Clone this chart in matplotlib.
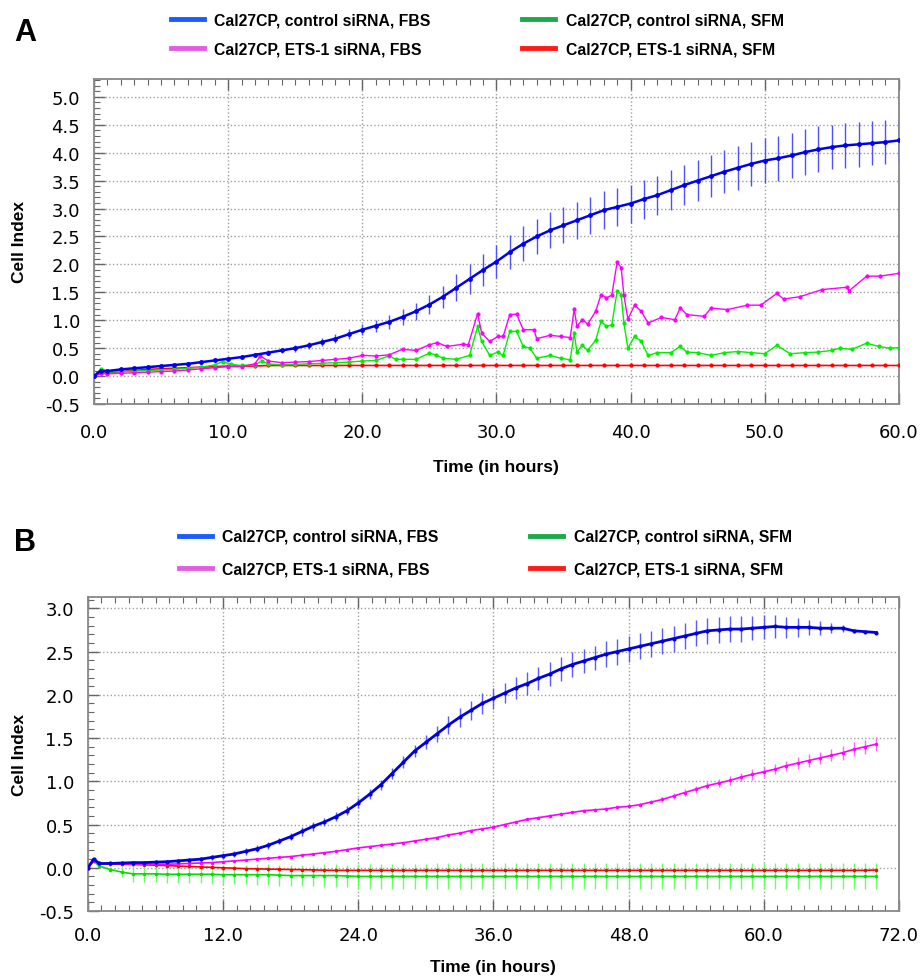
import numpy as np
import matplotlib
matplotlib.use('Agg')
import matplotlib.pyplot as plt
from matplotlib.lines import Line2D
from matplotlib.ticker import MultipleLocator, FormatStrFormatter

plt.rcParams['font.family'] = ['Liberation Sans', 'DejaVu Sans']

# ---- panel A (0-60 h) ----
t_a = [0, 0.5] + list(range(1, 61))
blue_a = [0.00, 0.10, 0.09, 0.12, 0.14, 0.16, 0.18, 0.20, 0.22, 0.25, 0.28, 0.31,
          0.34, 0.38, 0.42, 0.46, 0.50, 0.55, 0.61, 0.67, 0.75, 0.83,
          0.90, 0.97, 1.06, 1.16, 1.28, 1.42, 1.58, 1.74, 1.90, 2.05,
          2.22, 2.37, 2.50, 2.61, 2.70, 2.79, 2.88, 2.97, 3.03, 3.09,
          3.17, 3.24, 3.33, 3.42, 3.50, 3.58, 3.66, 3.73, 3.80, 3.86,
          3.90, 3.95, 4.01, 4.06, 4.10, 4.13, 4.15, 4.17, 4.19, 4.22]
blue_a_err = [0.00, 0.02, 0.02, 0.02, 0.02, 0.02, 0.02, 0.03, 0.03, 0.03, 0.03, 0.03,
              0.04, 0.04, 0.05, 0.05, 0.06, 0.06, 0.07, 0.08, 0.09, 0.10,
              0.11, 0.12, 0.14, 0.15, 0.17, 0.20, 0.24, 0.27, 0.29, 0.30,
              0.31, 0.31, 0.32, 0.32, 0.32, 0.33, 0.33, 0.34, 0.34, 0.34,
              0.35, 0.35, 0.36, 0.36, 0.37, 0.38, 0.38, 0.39, 0.40, 0.40,
              0.40, 0.40, 0.41, 0.41, 0.40, 0.40, 0.40, 0.39, 0.39, 0.39]
red_a = [0.00, 0.05, 0.06, 0.08, 0.10, 0.12, 0.13, 0.14, 0.15, 0.16, 0.17, 0.18,
         0.18, 0.18, 0.19, 0.19, 0.19, 0.19, 0.19, 0.19, 0.19, 0.19,
         0.19, 0.19, 0.19, 0.19, 0.19, 0.19, 0.19, 0.19, 0.19, 0.19,
         0.19, 0.19, 0.19, 0.19, 0.19, 0.19, 0.19, 0.19, 0.19, 0.19,
         0.19, 0.19, 0.19, 0.19, 0.19, 0.19, 0.19, 0.19, 0.19, 0.19,
         0.19, 0.19, 0.19, 0.19, 0.19, 0.19, 0.19, 0.19, 0.19, 0.19]
red_a_err = 0.01

t_green_a = [0, 0.5, 1, 2, 3, 4, 5, 6, 7, 8, 9, 9.6, 10.2, 11, 12, 12.5, 13, 14, 15, 16,
             17, 18, 19, 20, 21, 22, 22.5, 23, 24, 25, 25.5, 26, 27, 28, 28.6, 28.9,
             29.5, 30.1, 30.5, 31, 31.5, 32, 32.5, 33, 34, 34.8, 35.5, 35.8, 36, 36.4,
             36.8, 37.4, 37.8, 38.2, 38.6, 39, 39.3, 39.5, 39.8, 40.3, 40.8, 41.3, 42,
             43, 43.7, 44.2, 45, 46, 47, 48, 49, 50, 50.9, 51.9, 53, 54, 55, 55.6, 56.5,
             57.6, 58.5, 59.3, 60]
green_a = [0.00, 0.12, 0.07, 0.08, 0.09, 0.10, 0.11, 0.12, 0.14, 0.16, 0.20, 0.26, 0.21,
           0.19, 0.20, 0.27, 0.22, 0.20, 0.21, 0.22, 0.23, 0.24, 0.25, 0.27, 0.28, 0.36,
           0.30, 0.30, 0.30, 0.41, 0.38, 0.32, 0.30, 0.37, 0.89, 0.62, 0.37, 0.43, 0.37,
           0.80, 0.80, 0.53, 0.50, 0.32, 0.37, 0.32, 0.29, 0.77, 0.43, 0.55, 0.46, 0.64,
           0.98, 0.89, 0.92, 1.52, 1.46, 0.95, 0.50, 0.71, 0.62, 0.37, 0.42, 0.42, 0.53,
           0.43, 0.42, 0.37, 0.42, 0.44, 0.42, 0.40, 0.55, 0.40, 0.42, 0.43, 0.46, 0.50,
           0.48, 0.59, 0.53, 0.50, 0.51]
green_a_err = 0.03

t_pink_a = [0, 0.5, 1, 2, 3, 4, 5, 6, 7, 8, 9, 10, 11, 12, 12.4, 13, 14, 15, 16, 17, 18,
            19, 20, 21, 22, 23, 24, 25, 25.6, 26.3, 27.5, 27.9, 28.6, 28.9, 29.5, 30.1,
            30.5, 31, 31.5, 32, 32.8, 33, 34, 34.8, 35.5, 35.8, 36, 36.4, 36.8, 37.4,
            37.8, 38.2, 38.6, 39, 39.3, 39.5, 39.8, 40.3, 40.8, 41.3, 42.3, 43.3, 43.7,
            44.2, 45.5, 46, 47.2, 48.7, 49.7, 50.9, 51.4, 52.6, 54.3, 56.1, 56.3, 57.6,
            58.6, 60]
pink_a = [0.00, 0.05, 0.04, 0.05, 0.06, 0.07, 0.08, 0.09, 0.11, 0.13, 0.15, 0.17, 0.17,
          0.22, 0.36, 0.27, 0.24, 0.25, 0.26, 0.28, 0.30, 0.32, 0.37, 0.36, 0.38, 0.48,
          0.46, 0.56, 0.60, 0.53, 0.57, 0.56, 1.12, 0.77, 0.62, 0.71, 0.71, 1.10, 1.11,
          0.83, 0.83, 0.67, 0.73, 0.71, 0.69, 1.20, 0.89, 1.01, 0.93, 1.16, 1.46, 1.40,
          1.45, 2.04, 1.94, 1.45, 1.02, 1.27, 1.16, 0.95, 1.05, 1.01, 1.22, 1.10, 1.07,
          1.22, 1.19, 1.27, 1.27, 1.48, 1.38, 1.42, 1.55, 1.59, 1.53, 1.79, 1.79, 1.84]
pink_a_err = 0.03

# ---- panel B (0-72 h) ----
t_b = [0, 0.5] + list(range(1, 71))
blue_b = [0.00, 0.10,
          0.05, 0.05, 0.055, 0.06, 0.06, 0.065, 0.07, 0.08, 0.09, 0.10,
          0.12, 0.14, 0.16, 0.19, 0.22, 0.26, 0.31, 0.36, 0.42, 0.48,
          0.53, 0.59, 0.66, 0.75, 0.85, 0.96, 1.09, 1.22, 1.35, 1.45,
          1.55, 1.65, 1.74, 1.82, 1.90, 1.96, 2.02, 2.08, 2.13, 2.19,
          2.24, 2.30, 2.35, 2.39, 2.43, 2.47, 2.50, 2.53, 2.56, 2.59,
          2.62, 2.65, 2.68, 2.71, 2.74, 2.75, 2.76, 2.76, 2.77, 2.78,
          2.79, 2.78, 2.78, 2.78, 2.77, 2.77, 2.77, 2.74, 2.73, 2.72]
blue_b_err = [0.00, 0.01,
              0.02, 0.02, 0.02, 0.02, 0.02, 0.02, 0.02, 0.02, 0.02, 0.02,
              0.03, 0.03, 0.03, 0.04, 0.04, 0.04, 0.04, 0.04, 0.05, 0.05,
              0.05, 0.05, 0.05, 0.06, 0.06, 0.06, 0.06, 0.07, 0.07, 0.08,
              0.09, 0.10, 0.11, 0.11, 0.12, 0.12, 0.12, 0.13, 0.13, 0.13,
              0.14, 0.14, 0.14, 0.14, 0.14, 0.15, 0.15, 0.15, 0.15, 0.15,
              0.15, 0.15, 0.15, 0.15, 0.15, 0.15, 0.15, 0.15, 0.14, 0.14,
              0.13, 0.12, 0.11, 0.09, 0.08, 0.06, 0.04, 0.02, 0.00, 0.00]
pink_b = [0.00, 0.08,
          0.05, 0.05, 0.045, 0.04, 0.04, 0.04, 0.04, 0.045, 0.05, 0.055,
          0.06, 0.07, 0.08, 0.09, 0.10, 0.11, 0.12, 0.13, 0.145, 0.16,
          0.175, 0.19, 0.21, 0.23, 0.245, 0.26, 0.275, 0.29, 0.31, 0.33,
          0.35, 0.38, 0.40, 0.43, 0.45, 0.47, 0.50, 0.53, 0.56, 0.58,
          0.60, 0.62, 0.64, 0.66, 0.67, 0.68, 0.70, 0.71, 0.73, 0.76,
          0.79, 0.83, 0.87, 0.91, 0.95, 0.98, 1.01, 1.05, 1.08, 1.11,
          1.14, 1.18, 1.21, 1.24, 1.27, 1.30, 1.33, 1.37, 1.40, 1.43]
pink_b_err = [0.00, 0.01,
              0.01, 0.01, 0.01, 0.01, 0.01, 0.01, 0.01, 0.01, 0.01, 0.01,
              0.01, 0.01, 0.01, 0.01, 0.01, 0.01, 0.01, 0.01, 0.01, 0.01,
              0.01, 0.01, 0.01, 0.01, 0.01, 0.01, 0.01, 0.01, 0.01, 0.01,
              0.01, 0.01, 0.01, 0.01, 0.01, 0.01, 0.01, 0.01, 0.01, 0.01,
              0.02, 0.02, 0.02, 0.02, 0.02, 0.02, 0.02, 0.02, 0.02, 0.02,
              0.03, 0.03, 0.04, 0.04, 0.04, 0.05, 0.05, 0.05, 0.06, 0.06,
              0.06, 0.06, 0.07, 0.07, 0.07, 0.07, 0.08, 0.08, 0.08, 0.08]
green_b = [0.00, 0.08,
           0.02, -0.02, -0.05, -0.07, -0.07, -0.07, -0.075, -0.075, -0.075, -0.075,
           -0.075, -0.08, -0.08, -0.08, -0.08, -0.08, -0.085, -0.09, -0.09, -0.09,
           -0.09, -0.09, -0.095, -0.10, -0.10, -0.10, -0.10, -0.10, -0.10, -0.10,
           -0.10, -0.10, -0.10, -0.10, -0.10, -0.10, -0.10, -0.10, -0.10, -0.10,
           -0.10, -0.10, -0.10, -0.10, -0.10, -0.10, -0.10, -0.10, -0.10, -0.10,
           -0.10, -0.10, -0.10, -0.10, -0.10, -0.10, -0.10, -0.10, -0.10, -0.10,
           -0.10, -0.10, -0.10, -0.10, -0.10, -0.10, -0.10, -0.10, -0.10, -0.10]
green_b_err = [0.00, 0.01,
               0.01, 0.03, 0.06, 0.09, 0.10, 0.10, 0.10, 0.10, 0.10, 0.10,
               0.11, 0.11, 0.11, 0.11, 0.12, 0.12, 0.12, 0.12, 0.12, 0.12,
               0.13, 0.13, 0.13, 0.14, 0.14, 0.14, 0.14, 0.14, 0.14, 0.14,
               0.15, 0.15, 0.15, 0.15, 0.15, 0.15, 0.15, 0.15, 0.15, 0.15,
               0.15, 0.15, 0.15, 0.15, 0.15, 0.15, 0.15, 0.15, 0.15, 0.15,
               0.15, 0.15, 0.15, 0.15, 0.15, 0.15, 0.15, 0.15, 0.15, 0.15,
               0.15, 0.15, 0.15, 0.15, 0.15, 0.15, 0.15, 0.15, 0.15, 0.15]
red_b = [0.00, 0.09,
         0.05, 0.045, 0.04, 0.04, 0.035, 0.03, 0.025, 0.02, 0.015, 0.01,
         0.005, 0.00, -0.005, -0.01, -0.012, -0.015, -0.018, -0.02, -0.022, -0.025,
         -0.028, -0.03, -0.03, -0.03, -0.03, -0.03, -0.03, -0.03, -0.03, -0.03,
         -0.03, -0.03, -0.03, -0.03, -0.03, -0.03, -0.03, -0.03, -0.03, -0.03,
         -0.03, -0.03, -0.03, -0.03, -0.03, -0.03, -0.03, -0.03, -0.03, -0.03,
         -0.03, -0.03, -0.03, -0.03, -0.03, -0.03, -0.03, -0.03, -0.03, -0.03,
         -0.03, -0.03, -0.03, -0.03, -0.03, -0.03, -0.03, -0.03, -0.03, -0.025]
red_b_err = 0.02

legend_labels = ['Cal27CP, control siRNA, FBS', 'Cal27CP, ETS-1 siRNA, FBS',
                 'Cal27CP, control siRNA, SFM', 'Cal27CP, ETS-1 siRNA, SFM']
legend_colors = ['#1a5cff', '#e35de3', '#1aaa4a', '#ff1a1a']


def draw(ax, t, v, err, color, ecolor, ms, lw, z):
    ax.errorbar(t, v, yerr=err, fmt='-o', color=color, ecolor=ecolor,
                elinewidth=1.0, capsize=1.5, markersize=ms, linewidth=lw,
                markeredgewidth=0, zorder=z)


def style(ax, xmaj, xmin, xmax, ymin, ymax, xpad):
    ax.set_xlim(0, xmax)
    ax.set_ylim(ymin, ymax)
    ax.xaxis.set_major_locator(MultipleLocator(xmaj))
    ax.xaxis.set_minor_locator(MultipleLocator(xmin))
    ax.yaxis.set_major_locator(MultipleLocator(0.5))
    ax.yaxis.set_minor_locator(MultipleLocator(0.1))
    ax.xaxis.set_major_formatter(FormatStrFormatter('%.1f'))
    ax.yaxis.set_major_formatter(FormatStrFormatter('%.1f'))
    ax.tick_params(which='both', direction='in', top=True, right=False,
                   color='#666666', labelsize=13, labelfontfamily='DejaVu Sans')
    ax.tick_params(which='major', length=8, width=1.0)
    ax.tick_params(which='minor', length=4, width=0.8)
    ax.tick_params(axis='x', pad=xpad)
    ax.tick_params(axis='y', pad=10)
    ax.grid(which='major', linestyle=':', color='#a0a0a0', linewidth=1.0)
    for s in ax.spines.values():
        s.set_color('#888888')
        s.set_linewidth(1.3)
    ax.set_xlabel('Time (in hours)', fontsize=12.5, fontweight='bold')
    ax.set_ylabel('Cell Index', fontsize=12.5, fontweight='bold')


def legend(fig, x, y, spacing):
    handles = [Line2D([], [], color=c, linewidth=3.5) for c in legend_colors]
    fig.legend(handles, legend_labels, loc='upper left', bbox_to_anchor=(x, y),
               ncol=2, frameon=False, borderpad=0, borderaxespad=0,
               handlelength=2.1, handletextpad=0.65, columnspacing=5.85,
               labelspacing=spacing, prop={'size': 11.3, 'weight': 'bold'})


fig = plt.figure(figsize=(9.21, 9.79), dpi=100)

ax1 = fig.add_axes([0.102, 0.5863, 0.874, 0.332])
draw(ax1, t_a, red_a, red_a_err, '#ff0000', '#ff5050', 3.0, 1.2, 3)
draw(ax1, t_green_a, green_a, green_a_err, '#00ee00', '#55ff55', 3.0, 1.0, 4)
draw(ax1, t_pink_a, pink_a, pink_a_err, '#ff00ff', '#ff66ff', 3.0, 1.0, 5)
draw(ax1, t_a, blue_a, blue_a_err, '#0000ee', '#5050ff', 3.5, 1.8, 6)
style(ax1, 10, 1, 60, -0.5, 5.32, 14)
ax1.yaxis.set_label_coords(-0.083, 0.5)
ax1.xaxis.set_label_coords(0.5, -0.168)

ax2 = fig.add_axes([0.0955, 0.0684, 0.8805, 0.3207])
draw(ax2, t_b, green_b, green_b_err, '#00e000', '#66ff66', 2.5, 1.2, 3)
draw(ax2, t_b, red_b, red_b_err, '#ff0000', '#ff6060', 2.5, 1.2, 4)
draw(ax2, t_b, pink_b, pink_b_err, '#ff00ff', '#ff66ff', 2.5, 1.2, 5)
draw(ax2, t_b, blue_b, blue_b_err, '#0000dd', '#5a5aff', 3.0, 2.0, 6)
style(ax2, 12, 1.2, 72, -0.5, 3.13, 11)
ax2.yaxis.set_label_coords(-0.075, 0.5)
ax2.xaxis.set_label_coords(0.5, -0.152)

legend(fig, 171 / 921, 1 - 13 / 979, 0.95)
legend(fig, 179 / 921, 1 - 530 / 979, 1.1)

fig.text(14 / 921, 1 - 33 / 979, 'A', fontsize=22, fontweight='bold', va='center')
fig.text(14 / 921, 1 - 543 / 979, 'B', fontsize=22, fontweight='bold', va='center')

fig.savefig('out.png', dpi=100)
